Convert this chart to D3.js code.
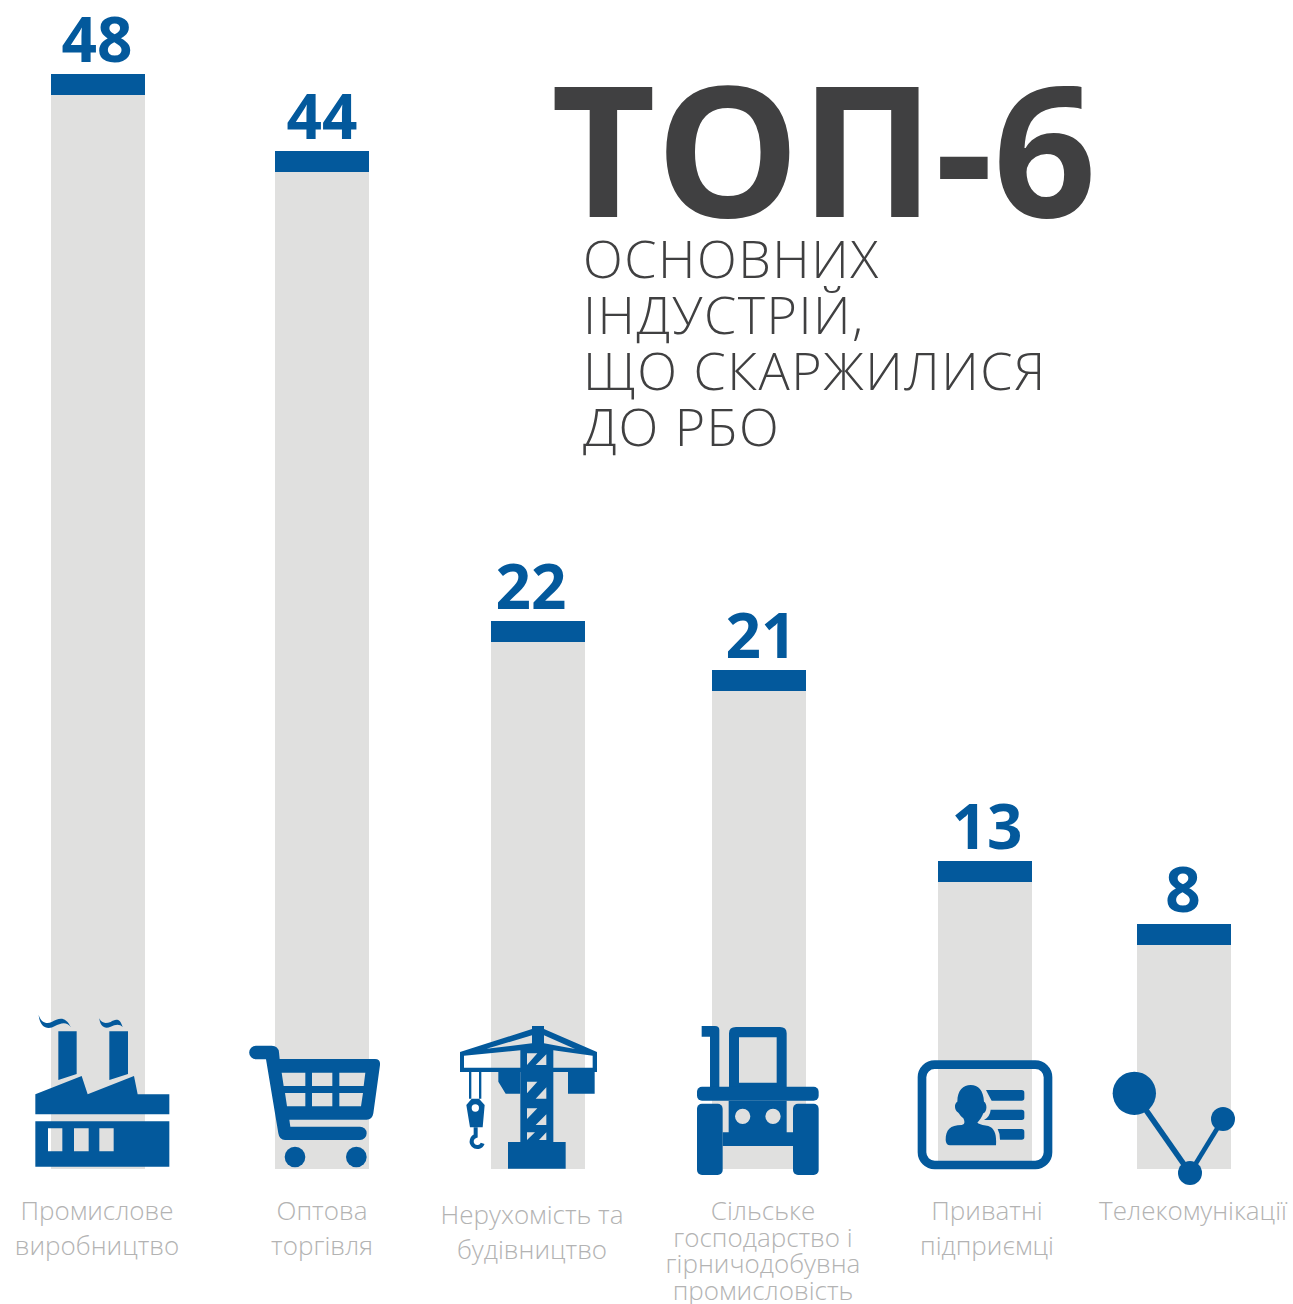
<!DOCTYPE html>
<html><head><meta charset="utf-8">
<script src="https://cdn.jsdelivr.net/npm/d3@7"></script>
<style>html,body{margin:0;padding:0;background:#fff}svg{display:block}text{font-family:"Open Sans",sans-serif}</style>
</head><body><svg id="c" width="1293" height="1304"></svg>
<script>
const categories = ["Промислове виробництво","Оптова торгівля","Нерухомість та будівництво","Сільське господарство і гірничодобувна промисловість","Приватні підприємці","Телекомунікації"];
const values = [48,44,22,21,13,8];
const labelLines = [["Промислове","виробництво"],["Оптова","торгівля"],["Нерухомість та","будівництво"],["Сільське","господарство і","гірничодобувна","промисловість"],["Приватні","підприємці"],["Телекомунікації"]];
const subtitleLines = ["ОСНОВНИХ","ІНДУСТРІЙ,","ЩО СКАРЖИЛИСЯ","ДО РБО"];
const BLUE="#03599c", GREY="#e0e0df", DARK="#404041", LABEL="#b3b3b3";

const svg=d3.select("#c");
// the source graphic's bars are hand-placed, so the height scale is piecewise
const y=d3.scaleLinear().domain([0,8,13,21,22,44,48]).range([1169,924,861,670,621,151,74]);
const x=d3.scaleOrdinal().domain(categories).range([51,275,491,712,938,1137]);
const barW=94, capH=21;
const valueX=d3.scaleOrdinal().domain(categories).range([97,322,531,761,987,1183]);
const labelX=d3.scaleOrdinal().domain(categories).range([97,322,532,763,987,1193]);
const labelY=d3.scaleOrdinal().domain(categories).range([1220,1220,1224,1220,1220,1220]);
const labelLH=d3.scaleOrdinal().domain(categories).range([35,35,35,26.7,35,35]);
const data=categories.map((c,i)=>({c,v:values[i],lines:labelLines[i]}));

svg.selectAll("rect.bar").data(data).join("rect").attr("class","bar")
  .attr("x",d=>x(d.c)).attr("width",barW).attr("y",d=>y(d.v)).attr("height",d=>y(0)-y(d.v)).attr("fill",GREY);
svg.selectAll("rect.cap").data(data).join("rect").attr("class","cap")
  .attr("x",d=>x(d.c)).attr("width",barW).attr("y",d=>y(d.v)).attr("height",capH).attr("fill",BLUE);
svg.selectAll("text.val").data(data).join("text").attr("class","val")
  .attr("x",d=>valueX(d.c)).attr("y",d=>y(d.v)-12).attr("text-anchor","middle")
  .attr("font-size",62).attr("font-weight",700).attr("fill",BLUE).text(d=>d.v);
const lab=svg.selectAll("text.lab").data(data).join("text").attr("class","lab")
  .attr("text-anchor","middle").attr("font-size",26).attr("font-weight",300).attr("fill",LABEL);
lab.selectAll("tspan").data(d=>d.lines.map((t,i)=>({t,i,c:d.c}))).join("tspan")
  .attr("x",d=>labelX(d.c)).attr("y",d=>labelY(d.c)+d.i*labelLH(d.c)).text(d=>d.t);

svg.append("text").attr("x",551).attr("y",217).attr("font-size",181).attr("font-weight",700).attr("fill",DARK).text("ТОП-6");
svg.selectAll("text.sub").data(subtitleLines).join("text").attr("class","sub")
  .attr("x",583).attr("y",(d,i)=>278+i*56).attr("font-size",52).attr("font-weight",300)
  .attr("letter-spacing",1.5).attr("fill",DARK).text(d=>d);

// pictograms, drawn in 3x local units
function icon(ox,oy){return svg.append("g").attr("transform",`translate(${ox},${oy}) scale(${1/3})`).attr("fill",BLUE);}
const f=icon(20,1000);
f.append("path").attr("fill-rule","evenodd").attr("d",
 "M56 45C62 65 78 75 95 66C115 55 135 45 153 82C140 62 120 70 105 78C85 90 60 85 56 45Z"+
 "M238 55C245 72 258 70 272 66C285 58 300 52 308 82C298 70 285 75 272 80C255 88 240 80 238 55Z"+
 "M115 94H170V222L115 240Z M268 94H324V222L268 240Z"+
 "M46 283L185 228L203 283L342 228L353 283H448V343H46Z"+
 "M46 364H448V500H46Z M84 385V454H127V385Z M162 385V454H206V385Z M238 385V454H281V385Z");
const ca=f;
ca.append("path").attr("fill-rule","evenodd").attr("d",
 "M708 137H755Q775 137 777 157L779 177H1065Q1082 177 1080 195L1060 340Q1057 359 1040 359H808L811 380H1020A20 20 0 0 1 1020 420H795Q778 420 775 400L738 178H708A20.5 20.5 0 0 1 708 137Z"+
 "M785 218H856V258H791Z M876 218H937V258H876Z M958 218H1036L1031 258H958Z"+
 "M795 279H856V319H801Z M876 279H937V319H876Z M958 279H1029L1023 319H958Z");
ca.append("circle").attr("cx",825).attr("cy",471).attr("r",31);
ca.append("circle").attr("cx",1009).attr("cy",471).attr("r",31);

const g2=icon(440,1010);
g2.append("path").attr("fill-rule","evenodd").attr("d",
 "M60 126L276 57V48H312V57L471 126V186H340V396H377V476H204V396H241V186H60Z"+
 "M140 116L276 76V100Z M312 76L405 117L312 100Z"+
 "M72 137L241 121V173H72Z M340 121L458 137V173H340Z"+
 "M261 130H292L261 165Z M319 133V165H287Z M261 215H292L261 250Z M319 232V266H287Z"+
 "M261 295H292L261 327Z M319 313V345H287Z M261 367H285L261 390Z M319 367V390H297Z");
g2.append("path").attr("d","M175 186H241V251H197L175 215Z M384 186H464V251H384Z");
g2.append("path").attr("fill-rule","evenodd").attr("d",
 "M87 186H94V266H87Z M117 186H124V266H117Z"+
 "M95 266H117L134 285L128 352H90L79 285Z M117 294A11 11 0 1 0 95 294A11 11 0 1 0 117 294Z");
g2.append("path").attr("fill","none").attr("stroke",BLUE).attr("stroke-width",12).attr("d","M107 352V378A17 17 0 1 0 128 400");
// tractor
g2.append("path").attr("fill-rule","evenodd").attr("d",
 "M785 48H825Q838 48 838 60V232H810V80H785Z"+
 "M867 232V70Q867 51 888 51H1020Q1040 51 1040 70V232Z M897 82V218H1010V82Z");
g2.append("rect").attr("x",771).attr("y",230).attr("width",365).attr("height",42).attr("rx",15);
g2.append("path").attr("fill-rule","evenodd").attr("d",
 "M866 272H1040V367H1060V408H848V367H866Z"+
 "M931 319A23 23 0 1 0 885 319A23 23 0 1 0 931 319Z M1022 319A23 23 0 1 0 976 319A23 23 0 1 0 1022 319Z");
g2.append("rect").attr("x",771).attr("y",281).attr("width",77).attr("height",214).attr("rx",15);
g2.append("rect").attr("x",1059).attr("y",281).attr("width",77).attr("height",214).attr("rx",15);

const g3=icon(900,1040);
g3.append("rect").attr("x",66).attr("y",74).attr("width",378).attr("height",301).attr("rx",38)
  .attr("fill","none").attr("stroke",BLUE).attr("stroke-width",26);
g3.append("path").attr("d",
 "M172 185C172 150 190 135 212 135C235 135 250 150 252 185C262 190 262 215 250 220C245 232 240 240 232 248C240 255 255 255 265 258C285 265 290 285 288 316H150Q138 316 137 300C137 270 150 255 185 255C195 253 195 245 190 235C182 228 178 222 175 218C162 212 162 190 172 185Z"+
 "M258 150H365Q373 150 373 158V174Q373 182 365 182H275Q268 170 258 150Z"+
 "M272 209H365Q373 209 373 217V232Q373 240 365 240H252Q270 230 272 209Z"+
 "M293 267H365Q373 267 373 275V291Q373 299 365 299H300Q300 280 293 267Z");
g3.append("line").attr("x1",703).attr("y1",160).attr("x2",870).attr("y2",399).attr("stroke",BLUE).attr("stroke-width",17);
g3.append("line").attr("x1",870).attr("y1",399).attr("x2",969).attr("y2",237).attr("stroke",BLUE).attr("stroke-width",14);
g3.append("circle").attr("cx",703).attr("cy",160).attr("r",65);
g3.append("circle").attr("cx",969).attr("cy",237).attr("r",36);
g3.append("circle").attr("cx",870).attr("cy",399).attr("r",36);
</script></body></html>
